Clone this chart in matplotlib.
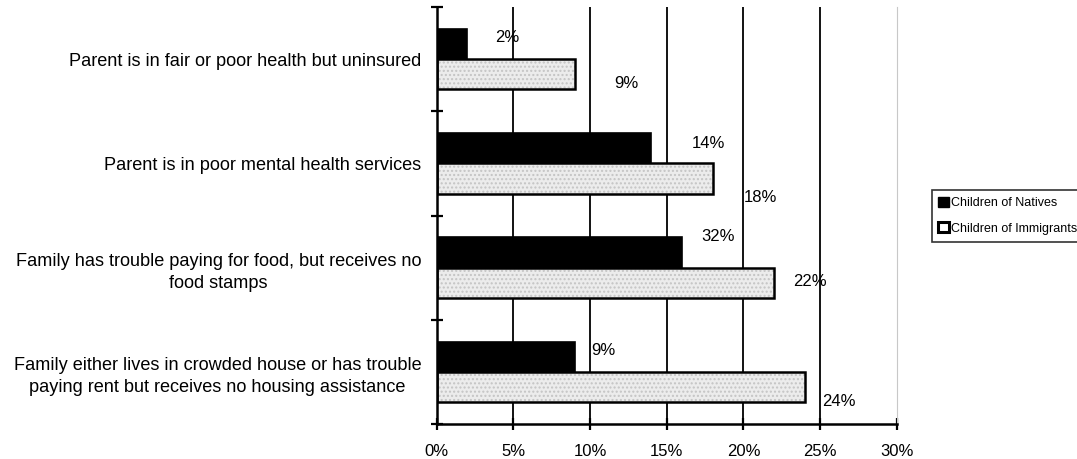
import matplotlib
matplotlib.use("Agg")
import matplotlib.pyplot as plt
import numpy as np
from matplotlib.patches import Patch

plt.rcParams['font.family'] = ['Liberation Sans', 'DejaVu Sans']

categories = [
    "Parent is in fair or poor health but uninsured",
    "Parent is in poor mental health services",
    "Family has trouble paying for food, but receives no\nfood stamps",
    "Family either lives in crowded house or has trouble\npaying rent but receives no housing assistance",
]
natives = [2, 14, 16, 9]
immigrants = [9, 18, 22, 24]
natives_labels = ["2%", "14%", "32%", "9%"]
immigrants_labels = ["9%", "18%", "22%", "24%"]
xticks = [0, 5, 10, 15, 20, 25, 30]
xtick_labels = ["0%", "5%", "10%", "15%", "20%", "25%", "30%"]
series_names = ["Children of Natives", "Children of Immigrants"]

# label placement offsets (data units) to mimic the original layout
nat_dx = [2.57, 3.7, 2.35, 1.9]
nat_dy = [-0.06, -0.05, -0.15, -0.06]
imm_dx = [3.4, 3.1, 2.35, 2.2]
imm_dy = [0.09, 0.18, -0.01, 0.14]

fig = plt.figure(figsize=(10.77, 4.59), dpi=100)
ax = fig.add_axes([0.4055, 0.0763, 0.4271, 0.9084])

n = len(categories)
centers = np.arange(n) + 0.5
h = 0.29

# gridlines
for xv in xticks[1:-1]:
    ax.axvline(xv, color='black', lw=1.3, zorder=1)

ax.barh(centers - h / 2, natives, height=h, color='black', edgecolor='black',
        lw=1.2, zorder=3)
ax.barh(centers + h / 2, immigrants, height=h, color='#ececec', edgecolor='#c4c4c4',
        hatch='....', lw=0, zorder=3)
ax.barh(centers + h / 2, immigrants, height=h, fill=False, edgecolor='black', lw=1.8, zorder=4)

for i in range(n):
    ax.text(natives[i] + nat_dx[i], centers[i] - h / 2 + nat_dy[i], natives_labels[i],
            ha='center', va='center', fontsize=12, zorder=5)
    ax.text(immigrants[i] + imm_dx[i], centers[i] + h / 2 + imm_dy[i], immigrants_labels[i],
            ha='center', va='center', fontsize=12, zorder=5)

ax.set_xlim(0, 30)
ax.set_ylim(n, 0)
ax.set_xticks(xticks)
ax.set_xticklabels(xtick_labels, fontsize=12)
ax.set_yticks(centers)
ax.set_yticklabels(categories, fontsize=13.1, multialignment='center', linespacing=1.38)
ax.set_yticks(np.arange(n + 1), minor=True)
ax.tick_params(axis='y', which='major', length=0, pad=11)
ax.tick_params(axis='y', which='minor', length=8, width=1.6, direction='inout')
ax.tick_params(axis='x', which='major', length=9, width=1.6, direction='inout', pad=10)

for s in ['left', 'bottom']:
    ax.spines[s].set_linewidth(1.8)
    ax.spines[s].set_zorder(6)
ax.spines['top'].set_visible(False)
ax.spines['right'].set_color('#c8c8c8')
ax.spines['right'].set_linewidth(0.8)

handles = [Patch(facecolor='black', edgecolor='black'),
           Patch(facecolor='white', edgecolor='black', lw=2.2)]
leg = fig.legend(handles, series_names, loc='upper left',
                 bbox_to_anchor=(931.5 / 1077, 1 - 190 / 459),
                 fontsize=9, frameon=True, fancybox=False, edgecolor='black',
                 handlelength=0.85, handleheight=0.85, handletextpad=0.15,
                 borderpad=0.55, labelspacing=1.05, borderaxespad=0)
leg.get_frame().set_linewidth(1.2)

fig.savefig("out.png", dpi=100)
